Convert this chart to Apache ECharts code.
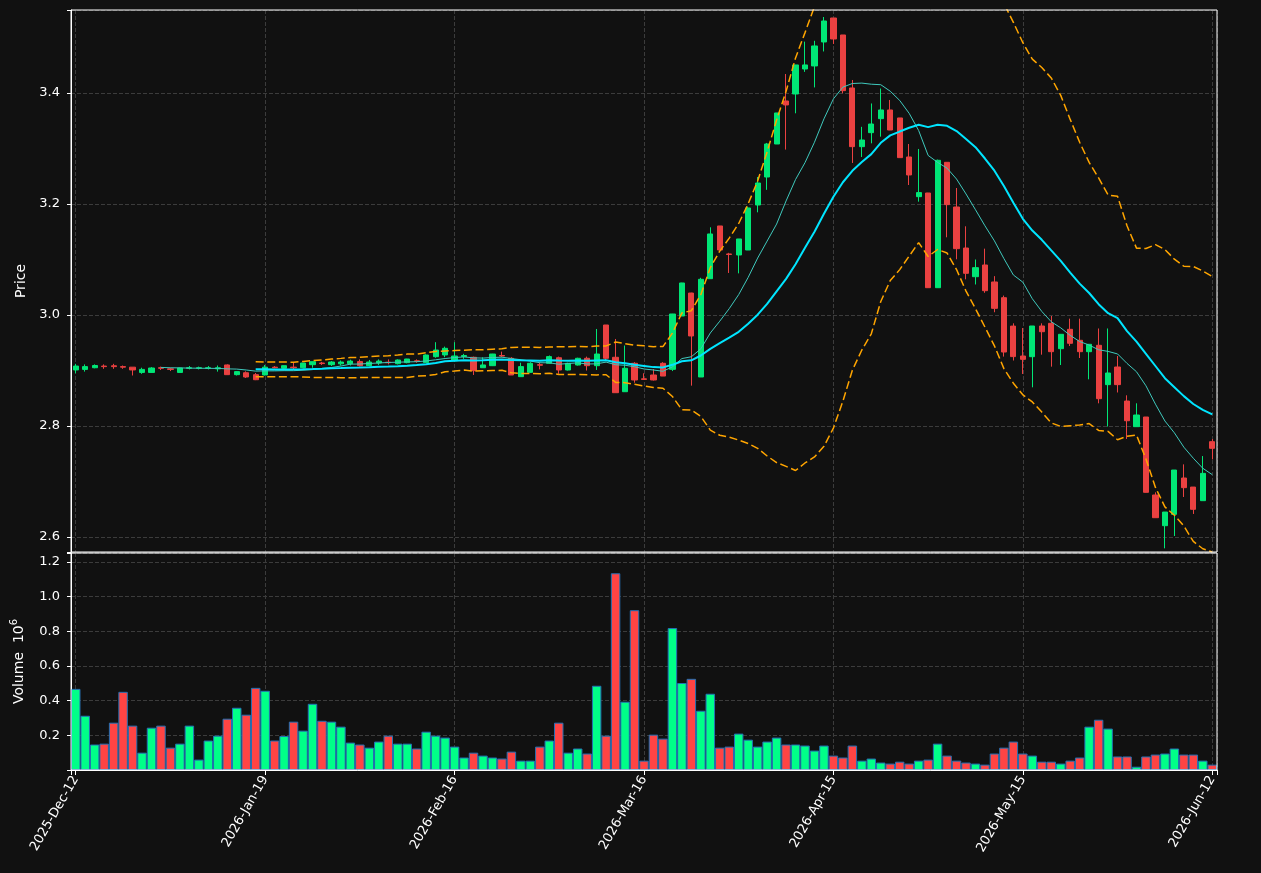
<!DOCTYPE html>
<html><head><meta charset="utf-8">
<script src="https://cdn.jsdelivr.net/npm/echarts@6/dist/echarts.min.js"></script>
<style>html,body{margin:0;padding:0;background:#111111;}#chart{width:1261px;height:873px;}</style>
</head><body><div id="chart"></div>
<script>
const tickLabels = ['2025-Dec-12','2026-Jan-19','2026-Feb-16','2026-Mar-16','2026-Apr-15','2026-May-15','2026-Jun-12'];
const opens = [2.901,2.902,2.905,2.908,2.9085,2.907,2.906,2.8965,2.8965,2.905,2.903,2.8965,2.904,2.904,2.904,2.903,2.910,2.8925,2.896,2.8925,
2.892,2.906,2.904,2.906,2.905,2.9105,2.9135,2.9105,2.912,2.9123,2.916,2.9087,2.9135,2.915,2.9123,2.9142,2.9175,2.9142,2.9249,2.928,
2.9177,2.925,2.9238,2.905,2.9087,2.927,2.922,2.8889,2.8967,2.9105,2.913,2.923,2.9009,2.9099,2.922,2.9087,2.982,2.9238,2.8618,2.913,
2.885,2.8919,2.913,2.9021,2.9982,3.0396,2.8883,3.0654,3.1604,3.110,3.1081,3.1171,3.1982,3.2486,3.3081,3.3856,3.3982,3.4432,3.4487,3.4919,
3.5351,3.5045,3.409,3.3033,3.3285,3.3537,3.3694,3.355,3.2847,3.2132,3.2198,3.0492,3.2751,3.1946,3.1207,3.069,3.0901,3.0595,3.0312,2.980,
2.9261,2.9249,2.9802,2.985,2.9393,2.9742,2.9544,2.9339,2.9454,2.8745,2.9063,2.845,2.7988,2.8162,2.6757,2.6204,2.6408,2.7063,2.690,2.6655,
2.7718];
const highs = [2.912,2.911,2.911,2.911,2.912,2.909,2.906,2.905,2.906,2.907,2.905,2.905,2.908,2.907,2.908,2.909,2.911,2.899,2.8985,2.8955,
2.910,2.908,2.909,2.914,2.9135,2.916,2.9155,2.917,2.918,2.9195,2.920,2.919,2.920,2.920,2.920,2.921,2.920,2.929,2.951,2.943,
2.951,2.930,2.925,2.9238,2.930,2.934,2.924,2.914,2.915,2.9147,2.927,2.925,2.914,2.923,2.925,2.9748,2.982,2.9568,2.945,2.915,
2.895,2.9027,2.915,3.002,3.058,3.040,3.067,3.158,3.1604,3.112,3.137,3.195,3.2486,3.310,3.364,3.4342,3.4505,3.4925,3.494,3.5369,
3.5351,3.5045,3.4234,3.339,3.3811,3.408,3.3874,3.355,3.3081,3.2991,3.220,3.280,3.2751,3.2288,3.1598,3.100,3.1195,3.070,3.035,2.985,
2.9766,2.980,2.985,2.9982,2.9652,2.9934,2.9934,2.9472,2.9757,2.9757,2.9261,2.8553,2.8409,2.8162,2.6805,2.645,2.7207,2.7309,2.690,2.7459,
2.7766];
const lows = [2.895,2.898,2.904,2.903,2.903,2.903,2.891,2.894,2.896,2.901,2.899,2.896,2.902,2.902,2.902,2.898,2.892,2.891,2.8865,2.8827,
2.891,2.904,2.903,2.902,2.904,2.905,2.910,2.908,2.909,2.909,2.907,2.908,2.910,2.911,2.911,2.913,2.914,2.914,2.923,2.924,
2.916,2.921,2.892,2.905,2.908,2.924,2.892,2.8889,2.896,2.902,2.912,2.894,2.900,2.909,2.900,2.901,2.918,2.860,2.8618,2.878,
2.883,2.882,2.890,2.899,2.998,2.8727,2.8883,3.065,3.117,3.0757,3.075,3.117,3.185,3.2255,3.308,3.298,3.3634,3.438,3.410,3.4748,
3.4883,3.3995,3.2739,3.2847,3.3093,3.3213,3.333,3.2835,3.2342,3.2042,3.049,3.049,3.140,3.1004,3.0643,3.055,3.040,3.005,2.925,2.918,
2.8937,2.8697,2.9285,2.9069,2.9099,2.9441,2.9225,2.8841,2.8409,2.799,2.8604,2.7766,2.7988,2.680,2.6348,2.5796,2.6018,2.6721,2.6415,2.6655,
2.7399];
const closes = [2.908,2.907,2.909,2.907,2.907,2.906,2.901,2.902,2.9045,2.904,2.902,2.9045,2.905,2.905,2.905,2.905,2.8925,2.898,2.8883,2.8834,
2.906,2.905,2.9087,2.905,2.9135,2.9159,2.9125,2.9153,2.9153,2.917,2.9087,2.9153,2.917,2.914,2.9189,2.9207,2.9165,2.9279,2.9369,2.940,
2.9261,2.927,2.8997,2.910,2.9297,2.926,2.8919,2.907,2.913,2.9095,2.925,2.9009,2.913,2.922,2.9087,2.9297,2.922,2.860,2.904,2.8829,
2.884,2.8829,2.890,3.0018,3.0577,2.9622,3.0643,3.146,3.1171,3.109,3.137,3.1928,3.2378,3.3081,3.364,3.3784,3.4505,3.4505,3.4847,3.5297,
3.4973,3.4042,3.3033,3.3153,3.3441,3.3694,3.3333,3.2835,3.2523,3.2205,3.0492,3.2787,3.1988,3.1195,3.0751,3.0853,3.0438,3.012,2.9333,2.925,
2.9201,2.9802,2.9699,2.9339,2.9652,2.949,2.9339,2.9472,2.8492,2.8955,2.8745,2.8095,2.8198,2.6805,2.6348,2.645,2.7207,2.6889,2.6499,2.7147,
2.7598];
const volumes = [0.468,0.313,0.147,0.152,0.273,0.451,0.256,0.100,0.244,0.256,0.129,0.152,0.256,0.060,0.170,0.198,0.296,0.359,0.319,0.474,
0.457,0.170,0.196,0.279,0.227,0.382,0.284,0.279,0.250,0.158,0.147,0.129,0.164,0.198,0.152,0.152,0.124,0.221,0.198,0.187,
0.135,0.072,0.100,0.083,0.072,0.066,0.106,0.054,0.054,0.135,0.170,0.273,0.100,0.124,0.095,0.486,0.198,1.135,0.394,0.922,
0.054,0.204,0.181,0.819,0.502,0.526,0.342,0.440,0.129,0.135,0.210,0.175,0.135,0.164,0.187,0.147,0.147,0.141,0.112,0.141,
0.083,0.072,0.141,0.054,0.066,0.043,0.037,0.048,0.037,0.054,0.060,0.152,0.083,0.054,0.043,0.037,0.031,0.095,0.129,0.164,
0.095,0.083,0.048,0.048,0.037,0.054,0.072,0.250,0.290,0.239,0.078,0.078,0.019,0.078,0.089,0.095,0.124,0.089,0.089,0.054,
0.031];

const UP = '#00e676', DOWN = '#ea4141';
const VUP = '#00ff88', VDOWN = '#ff4444';
const TXT = '#ffffff', GRIDC = '#3c3c3c';
const FONT = 'DejaVu Sans';

const N = closes.length;
const idx = closes.map((_, i) => i);
const candleData = idx.map(i => [opens[i], closes[i], lows[i], highs[i]]);
function sma(a, w) { return a.map((_, i) => i < w - 1 ? '-' : a.slice(i - w + 1, i + 1).reduce((s, v) => s + v, 0) / w); }
function rstd(a, w) {
  return a.map((_, i) => {
    if (i < w - 1) return '-';
    const s = a.slice(i - w + 1, i + 1); const m = s.reduce((p, v) => p + v, 0) / w;
    return Math.sqrt(s.reduce((p, v) => p + (v - m) * (v - m), 0) / (w - 1));
  });
}
const ma10 = sma(closes, 10), ma20 = sma(closes, 20), sd20 = rstd(closes, 20);
const bbUp = ma20.map((m, i) => m === '-' ? '-' : m + 2 * sd20[i]);
const bbLo = ma20.map((m, i) => m === '-' ? '-' : m - 2 * sd20[i]);
const volData = idx.map(i => ({ value: volumes[i], itemStyle: { color: closes[i] >= opens[i] ? VUP : VDOWN } }));

const dashed = { show: true, lineStyle: { color: GRIDC, type: [4, 2], width: 1 } };
const chart = echarts.init(document.getElementById('chart'), null, { renderer: 'canvas' });
chart.setOption({
  backgroundColor: '#111111',
  animation: false,
  textStyle: { fontFamily: FONT },
  grid: [
    { left: 71, right: 44, top: 10, height: 542, show: true, z: 5, borderColor: '#ffffff', borderWidth: 1, backgroundColor: 'transparent' },
    { left: 71, right: 44, top: 553, height: 217, show: true, z: 5, borderColor: '#ffffff', borderWidth: 1, backgroundColor: 'transparent' }
  ],
  xAxis: [
    { type: 'category', gridIndex: 0, data: idx, boundaryGap: true, show: false, position: 'top' },
    { type: 'value', gridIndex: 0, min: -0.5, max: N - 0.5, position: 'bottom',
      axisLine: { show: false, onZero: false }, axisTick: { show: false }, axisLabel: { show: false }, splitLine: dashed },
    { type: 'category', gridIndex: 1, data: idx, boundaryGap: true, show: false, position: 'top' },
    { type: 'value', gridIndex: 1, min: -0.5, max: N - 0.5, position: 'bottom',
      axisLine: { show: true, onZero: false, lineStyle: { color: '#ffffff' } },
      axisTick: { show: true, length: 5, lineStyle: { color: '#ffffff' } },
      axisLabel: { color: TXT, fontSize: 13, fontFamily: FONT, rotate: 60, margin: 7,
        formatter: v => (Math.abs(v % 20) < 1e-9 ? tickLabels[Math.round(v / 20)] : '') },
      splitLine: dashed }
  ],
  yAxis: [
    { type: 'value', gridIndex: 0, min: 2.573, max: 3.5495, position: 'left',
      axisLine: { show: true, onZero: false, lineStyle: { color: '#ffffff' } },
      axisTick: { show: true, length: 4, lineStyle: { color: '#ffffff' } },
      axisLabel: { color: TXT, fontSize: 13, fontFamily: FONT, margin: 11,
        formatter: v => (Math.abs(v * 5 - Math.round(v * 5)) < 1e-6 ? v.toFixed(1) : '') },
      splitLine: dashed,
      name: 'Price', nameLocation: 'middle', nameGap: 42, nameRotate: 90,
      nameTextStyle: { color: TXT, fontSize: 14, fontFamily: FONT } },
    { type: 'value', gridIndex: 1, min: 0, max: 1.252, interval: 0.2, position: 'left',
      axisLine: { show: true, onZero: false, lineStyle: { color: '#ffffff' } },
      axisTick: { show: true, length: 4, lineStyle: { color: '#ffffff' } },
      axisLabel: { color: TXT, fontSize: 13, fontFamily: FONT, margin: 11,
        formatter: v => (v > 0.01 && Math.abs(v * 5 - Math.round(v * 5)) < 1e-6 ? v.toFixed(1) : '') },
      splitLine: dashed,
      name: '{a|Volume  10}{b|6}', nameLocation: 'middle', nameGap: 42, nameRotate: 90,
      nameTextStyle: { color: TXT, fontFamily: FONT,
        rich: { a: { color: TXT, fontSize: 14, lineHeight: 20, fontFamily: FONT },
                b: { color: TXT, fontSize: 10, lineHeight: 10, verticalAlign: 'top', fontFamily: FONT } } } }
  ],
  series: [
    { type: 'candlestick', xAxisIndex: 0, yAxisIndex: 0, data: candleData, barWidth: '60%',
      itemStyle: { color: UP, color0: DOWN, borderColor: UP, borderColor0: DOWN, borderWidth: 1 } },
    { type: 'line', xAxisIndex: 0, yAxisIndex: 0, data: ma10, showSymbol: false, symbol: 'none',
      lineStyle: { color: '#3fc9bd', width: 1 }, z: 3 },
    { type: 'line', xAxisIndex: 0, yAxisIndex: 0, data: ma20, showSymbol: false, symbol: 'none',
      lineStyle: { color: '#00e5ff', width: 2 }, z: 3 },
    { type: 'line', xAxisIndex: 0, yAxisIndex: 0, data: bbUp, showSymbol: false, symbol: 'none',
      lineStyle: { color: '#ffa500', width: 1.5, type: [8, 3.6] }, z: 3 },
    { type: 'line', xAxisIndex: 0, yAxisIndex: 0, data: bbLo, showSymbol: false, symbol: 'none',
      lineStyle: { color: '#ffa500', width: 1.5, type: [8, 3.6] }, z: 3 },
    { type: 'bar', xAxisIndex: 2, yAxisIndex: 1, data: volData, barWidth: '100%',
      itemStyle: { borderColor: '#2471b5', borderWidth: 1 } }
  ]
});
</script></body></html>
